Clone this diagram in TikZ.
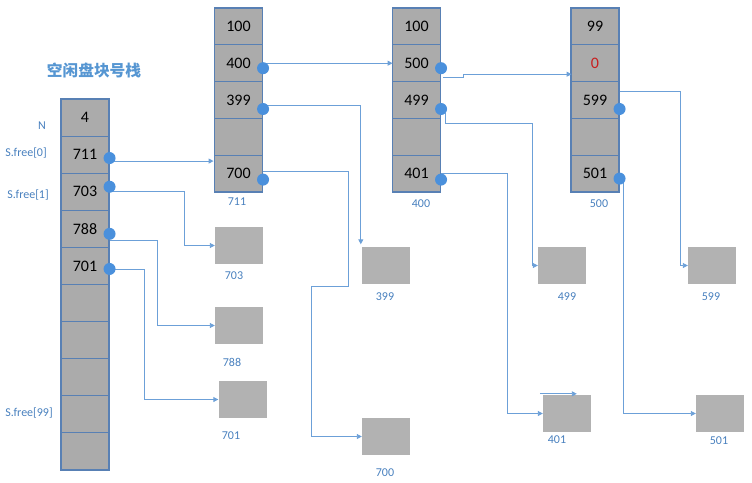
\documentclass[tikz,border=0pt]{standalone}
\usepackage{fontspec}
\setmainfont{Carlito}
\newfontfamily\cjkfont{Noto Sans CJK SC}
\usetikzlibrary{calc,arrows.meta}

\definecolor{cellgray}{RGB}{171,171,171}
\definecolor{boxgray}{RGB}{178,178,178}
\definecolor{cellborder}{RGB}{88,128,180}
\definecolor{lineblue}{RGB}{108,160,216}
\definecolor{dotblue}{RGB}{74,144,220}
\definecolor{labelblue}{RGB}{72,128,190}
\definecolor{titleblue}{RGB}{86,150,210}
\definecolor{zerored}{RGB}{200,30,30}

\tikzset{
  cell/.style={draw=cellborder, line width=1.1pt, fill=cellgray, inner sep=0pt,
    minimum width=48pt, font=\fontsize{16}{16}\selectfont, text=black},
  stackcell/.style={cell, minimum height=37.1pt},
  blockcell/.style={cell, minimum height=36.8pt},
  block/.style={fill=boxgray, minimum width=48pt, minimum height=37pt, inner sep=0pt},
  pin/.style={circle, fill=dotblue, minimum size=12pt, inner sep=0pt},
  lbl/.style={text=labelblue, font=\fontsize{12}{12}\selectfont, inner sep=0pt},
  conn/.style={draw=lineblue, line width=0.9pt},
  arr/.style={conn, -{Triangle[length=5pt,width=5pt]}},
}

\begin{document}
\begin{tikzpicture}[x=1pt,y=-1pt]
  \useasboundingbox (0,0) rectangle (752,482);

  % title of the free-block stack
  \node[text=titleblue, font=\cjkfont\bfseries\fontsize{15.7}{15.7}\selectfont] (ttl) at (94,70) {空闲盘块号栈};

  % the stack of free block numbers
  \foreach \t [count=\i from 0] in {4,711,703,788,701,{},{},{},{},{}}
    \node[stackcell] (s\i) at (85,{99+18.55+37.1*\i}) {\t};

  \node[lbl] (lN)  at (42,126) {N};
  \node[lbl] (lf0) at (26,153) {S.free[0]};
  \node[lbl] (lf1) at (28,195) {S.free[1]};
  \node[lbl] (lf99) at (29,413) {S.free[99]};

  % index blocks 711, 400, 500
  \foreach \t [count=\i from 0] in {100,400,399,{},700}
    \node[blockcell] (a\i) at (238.5,{8+18.4+36.8*\i}) {\t};
  \foreach \t [count=\i from 0] in {100,500,499,{},401}
    \node[blockcell] (b\i) at (416.5,{8+18.4+36.8*\i}) {\t};
  \foreach \t [count=\i from 0] in {99,{\textcolor{zerored}{0}},599,{},501}
    \node[blockcell] (c\i) at (595,{8+18.4+36.8*\i}) {\t};

  \node[lbl] (la) at (237,202) {711};
  \node[lbl] (lb) at (421,204) {400};
  \node[lbl] (lc) at (599,204) {500};

  % plain disk blocks
  \node[block] (k703) at (239,245.5) {};
  \node[block] (k788) at (239,325.5) {};
  \node[block] (k701) at (242.5,399.5) {};
  \node[block] (k399) at (386,265) {};
  \node[block] (k700) at (386,436.5) {};
  \node[block] (k499) at (562,265.5) {};
  \node[block] (k599) at (712,265.5) {};
  \node[block] (k401) at (567,413.5) {};
  \node[block] (k501) at (720,413.5) {};

  \node[lbl] (l703) at (234,276) {703};
  \node[lbl] (l788) at (232,362) {788};
  \node[lbl] (l701) at (231,436) {701};
  \node[lbl] (l399) at (385,297) {399};
  \node[lbl] (l700) at (385,473) {700};
  \node[lbl] (l499) at (567,297) {499};
  \node[lbl] (l599) at (711,297) {599};
  \node[lbl] (l401) at (557,440) {401};
  \node[lbl] (l501) at (719,441) {501};

  % pointer pins
  \coordinate (ps1) at ($(s1.east)+(0,3.4)$);
  \coordinate (ps2) at ($(s2.east)+(0,-5)$);
  \coordinate (ps3) at ($(s3.east)+(0,5)$);
  \coordinate (ps4) at ($(s4.east)+(0,3)$);
  \coordinate (pa1) at ($(a1.east)+(0,5)$);
  \coordinate (pa2) at ($(a2.east)+(0,9)$);
  \coordinate (pa4) at ($(a4.east)+(0,6)$);
  \coordinate (pb1) at ($(b1.east)+(0,5)$);
  \coordinate (pb2) at ($(b2.east)+(0,9)$);
  \coordinate (pb4) at ($(b4.east)+(0,6)$);
  \coordinate (pc2) at ($(c2.east)+(0,9)$);
  \coordinate (pc4) at ($(c4.east)+(0,5)$);

  % connectors from the stack
  \draw[arr] ($(ps1)+(0,3)$) -- ++(104,0);
  \draw[arr] ($(ps2)+(0,5)$) -- ++(75,0) |- (k703.west);
  \draw[arr] ($(ps3)+(0,7)$) -- ++(48,0) |- (k788.west);
  \draw[arr] (ps4) -- ++(35,0) |- (k701.west);

  % connectors from block 711
  \draw[arr] ($(pa1)+(0,-5)$) -- ++(129.5,0);
  \draw[arr] ($(pa2)+(0,-4)$) -| ($(k399.north west)+(-1,-2)$);
  \draw[arr] ($(pa4)+(0,-8)$) -| ++(85,115) -- ++(-37,0) |- (k700.west);

  % connectors from block 400
  \draw[arr] ($(pb1)+(2,9)$) -- ++(20,0) -- ++(0,-3) -- ++(108.5,0);
  \draw[arr] ($(pb2)+(4,4)$) -- ++(0,10) -| ($(k499.west)+(-5,0)$) -- (k499.west);
  \draw[arr] ($(pb4)+(0,-6)$) -- ++(66,0) |- (k401.west);
  \coordinate (s401) at ($(k401.north west)+(-3,-1)$);
  \draw[arr] (s401) -- ++(37,0);

  % connectors from block 500
  \draw[arr] ($(c2.north east)+(0,10)$) -| ($(k599.west)+(-7,0)$) -- (k599.west);
  \draw[arr] ($(pc4)+(4,0)$) |- (k501.west);

  % pins drawn over the line ends
  \foreach \p in {ps1,ps2,ps3,ps4,pa1,pa2,pa4,pb1,pb2,pb4,pc2,pc4}
    \node[pin] (d\p) at (\p) {};
\end{tikzpicture}
\end{document}
